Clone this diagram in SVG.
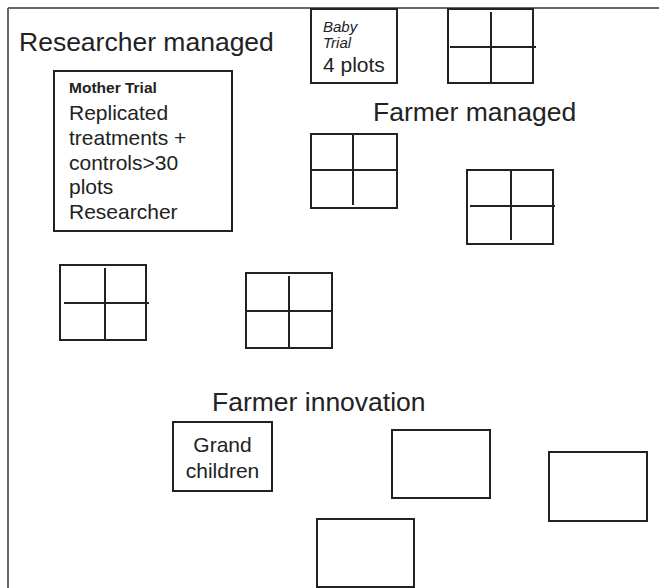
<svg xmlns="http://www.w3.org/2000/svg" width="659" height="588" viewBox="0 0 659 588">
<style>
.box{fill:#fff;stroke:#222;stroke-width:2}
.ln{stroke:#222;stroke-width:2;fill:none}
.frame{stroke:#666;stroke-width:2;fill:none}
text{font-family:"Liberation Sans",Arial,sans-serif;fill:#222}
.title{font-size:26.5px}
.body{font-size:21px}
.small{font-size:15.5px;font-weight:bold}
.ital{font-size:15px;font-style:italic}
</style>
<g id="frame">
<line class="frame" x1="8" y1="8" x2="659" y2="8"/>
<line class="frame" x1="8" y1="8" x2="8" y2="588"/>
</g>
<g id="labels">
<text class="title" x="19" y="51">Researcher managed</text>
<text class="title" x="373" y="121">Farmer managed</text>
<text class="title" x="212" y="411">Farmer innovation</text>
</g>
<g id="mother-trial">
<rect class="box" x="54" y="71" width="178" height="160"/>
<text class="small" x="69" y="93">Mother Trial</text>
<text class="body" x="69" y="120">Replicated</text>
<text class="body" x="69" y="145">treatments +</text>
<text class="body" x="69" y="170">controls&gt;30</text>
<text class="body" x="69" y="194">plots</text>
<text class="body" x="69" y="219">Researcher</text>
</g>
<g id="baby-trial">
<rect class="box" x="311" y="9" width="86" height="74"/>
<text class="ital" x="323" y="32">Baby</text>
<text class="ital" x="323" y="48">Trial</text>
<text class="body" x="323" y="72">4 plots</text>
</g>
<g id="grid1">
<rect class="box" x="448" y="9" width="85" height="74"/>
<line class="ln" x1="491" y1="12" x2="491" y2="83"/>
<line class="ln" x1="450" y1="47" x2="536" y2="47"/>
</g>
<g id="grid2">
<rect class="box" x="311" y="134" width="86" height="74"/>
<line class="ln" x1="353" y1="134" x2="353" y2="205"/>
<line class="ln" x1="311" y1="170" x2="397" y2="170"/>
</g>
<g id="grid3">
<rect class="box" x="467" y="170" width="86" height="74"/>
<line class="ln" x1="511" y1="170" x2="511" y2="240"/>
<line class="ln" x1="470" y1="206" x2="555" y2="206"/>
</g>
<g id="grid4">
<rect class="box" x="60" y="265" width="86" height="75"/>
<line class="ln" x1="105" y1="268" x2="105" y2="340"/>
<line class="ln" x1="64" y1="303" x2="149" y2="303"/>
</g>
<g id="grid5">
<rect class="box" x="246" y="273" width="86" height="75"/>
<line class="ln" x1="289" y1="276" x2="289" y2="348"/>
<line class="ln" x1="246" y1="311" x2="332" y2="311"/>
</g>
<g id="grandchildren">
<rect class="box" x="173" y="422" width="99" height="69"/>
<text class="body" x="222.5" y="452" text-anchor="middle">Grand</text>
<text class="body" x="222.5" y="478" text-anchor="middle">children</text>
</g>
<g id="plot-a"><rect class="box" x="392" y="430" width="98" height="68"/></g>
<g id="plot-b"><rect class="box" x="549" y="452" width="98" height="69"/></g>
<g id="plot-c"><rect class="box" x="317" y="519" width="97" height="68"/></g>
<g id="connectors"></g>
</svg>
